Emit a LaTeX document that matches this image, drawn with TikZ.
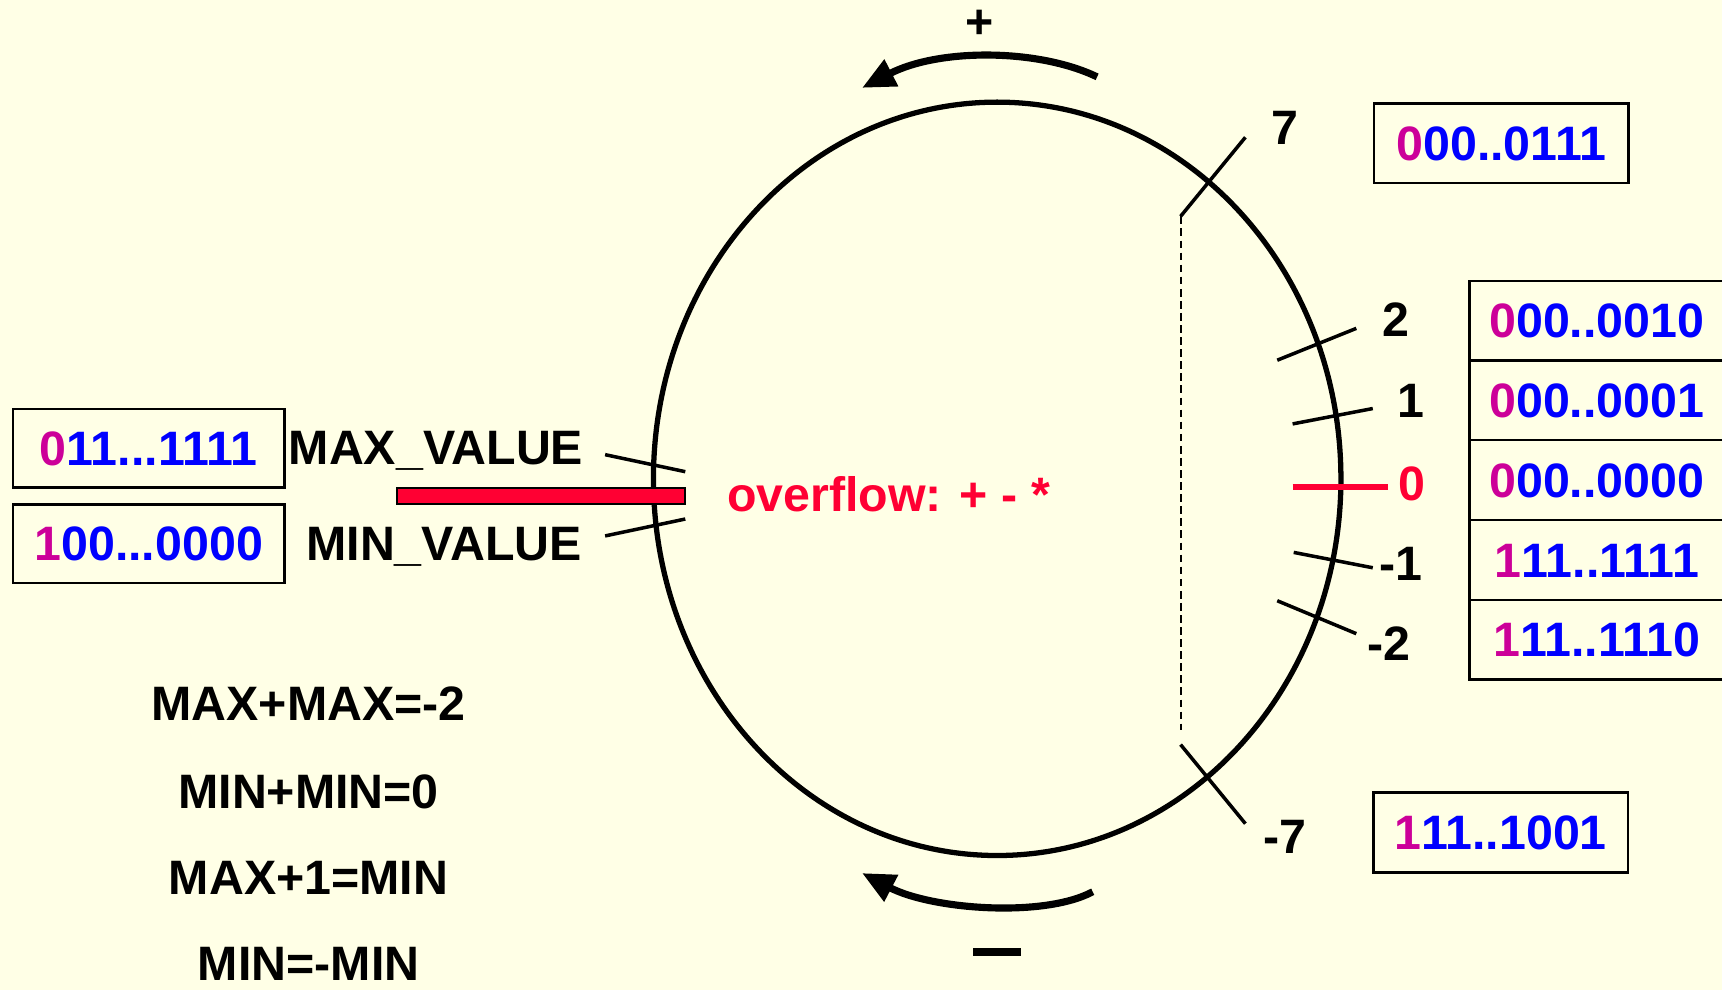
\documentclass[tikz,border=0pt]{standalone}
\usepackage{fontspec}
\setmainfont{Liberation Sans}
\usetikzlibrary{arrows.meta,shapes.geometric}
\definecolor{bg}{RGB}{255,255,230}
\definecolor{mag}{RGB}{204,0,153}
\definecolor{blu}{RGB}{0,0,255}
\definecolor{rd}{RGB}{255,0,51}
\newcommand{\bits}[2]{\textcolor{mag}{#1}\textcolor{blu}{#2}}
\begin{document}
\begin{tikzpicture}[x=1pt,y=-1pt,
  txt/.style={font=\fontsize{44}{49}\selectfont\bfseries, inner sep=0pt, text height=31.5pt, text depth=0pt},
  bitbox/.style={txt, draw, line width=2.2pt, minimum width=232pt, minimum height=72.6pt},
  tickline/.style={line width=3.2pt},
  bigarrow/.style={line width=6.5pt, -{Triangle[length=30pt,width=26pt]}}
]
\fill[bg] (0,0) rectangle (1568,901);
\useasboundingbox (0,0) rectangle (1568,901);

% ring
\node[draw, ellipse, line width=4.8pt, minimum width=626pt, minimum height=686pt, inner sep=0pt] (ring) at (908,436) {};

% direction arrows
\coordinate (pa) at (999,70);
\coordinate (pb) at (785,80);
\coordinate (ma) at (995,812);
\coordinate (mb) at (785,795);
\draw[bigarrow] (pa) .. controls (945,44) and (855,44) .. (pb);
\draw[bigarrow] (ma) .. controls (950,836) and (848,828) .. (mb);
\node[txt] (plus) at (892,19) {+};
\node[fill=black, inner sep=0pt, minimum width=44pt, minimum height=7pt] (minus) at (908,867) {};

% ticks
\coordinate (t7a) at (1075,197); \coordinate (t7b) at (1134,125);
\coordinate (tm7a) at (1075,678); \coordinate (tm7b) at (1134,750);
\draw[tickline] (t7a) -- (t7b);
\draw[tickline] (tm7a) -- (tm7b);
\draw[line width=1.8pt, dash pattern=on 7pt off 4pt] (t7a) -- (1075,665);
\draw[tickline] (1163,328) -- (1235,299);
\draw[tickline] (1177,386) -- (1250,372);
\draw[rd, line width=5.2pt] (1177,443.5) -- (1264,443.5);
\draw[tickline] (1178,503) -- (1250,517);
\draw[tickline] (1163,547) -- (1235,577);
\draw[tickline] (551,414) -- (624,429.5);
\draw[tickline] (551,488) -- (624,472.6);

% red overflow bar
\node[draw, fill=rd, line width=1.8pt, minimum width=262pt, minimum height=15pt, inner sep=0pt] (bar) at (492.75,451.5) {};

% tick labels
\node[txt] (l7) at (1170,116) {7};
\node[txt] (l2) at (1271,291) {2};
\node[txt] (l1) at (1285,364) {1};
\node[txt, text=rd] (l0) at (1286,440) {0};
\node[txt] (lm1) at (1276,513) {-1};
\node[txt] (lm2) at (1265,586) {-2};
\node[txt] (lm7) at (1170,761) {-7};
\node[txt] (maxv) at (397,407) {MAX\_VALUE};
\node[txt] (minv) at (404.5,495) {MIN\_VALUE};
\node[txt, text=rd, anchor=west] (ovf) at (662,450) {overflow: + - *};

% bit boxes
\node[bitbox] (b7) at (1367,130.5) {\bits{0}{00..0111}};
\node[bitbox] (b2) at (1454,292) {\bits{0}{00..0010}};
\node[bitbox] (b1) at (1454,364.6) {\bits{0}{00..0001}};
\node[bitbox] (b0) at (1454,437.2) {\bits{0}{00..0000}};
\node[bitbox] (bm1) at (1454,509.8) {\bits{1}{11..1111}};
\node[bitbox] (bm2) at (1454,582.4) {\bits{1}{11..1110}};
\node[bitbox] (bm7) at (1366.5,758) {\bits{1}{11..1001}};
\node[bitbox, minimum width=247pt, minimum height=71.5pt] (bmax) at (135.4,408) {\bits{0}{11...1111}};
\node[bitbox, minimum width=247pt, minimum height=71.5pt] (bmin) at (135.4,495) {\bits{1}{00...0000}};

% equations
\node[txt] (e1) at (281,640) {MAX+MAX=-2};
\node[txt] (e2) at (281,720) {MIN+MIN=0};
\node[txt] (e3) at (281,799) {MAX+1=MIN};
\node[txt] (e4) at (281,877) {MIN=-MIN};
\end{tikzpicture}
\end{document}
